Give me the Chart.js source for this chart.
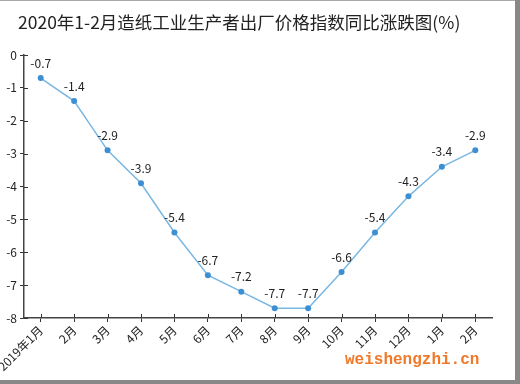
<!DOCTYPE html>
<html>
<head>
<meta charset="utf-8">
<script src="https://cdn.jsdelivr.net/npm/chart.js@4/dist/chart.umd.min.js"></script>
<style>
html,body{margin:0;padding:0;background:#fff;}
#wrap{position:relative;width:520px;height:384px;overflow:hidden;background:#fff;}
#c{position:absolute;left:0;top:0;}
.b{position:absolute;background:#888;}
#title{position:absolute;left:18px;top:11px;font-family:"Noto Sans CJK SC","Noto Sans",sans-serif;font-size:17.5px;line-height:21px;color:#222;white-space:nowrap;}
#wm{position:absolute;left:345px;top:351px;font-family:"Liberation Mono","DejaVu Sans Mono",monospace;font-size:16px;line-height:18px;color:#f07828;font-weight:bold;}
</style>
</head>
<body>
<div id="wrap">
<canvas id="c" width="520" height="384"></canvas>
<div id="title"></div>
<div id="wm">weishengzhi.cn</div>
<div class="b" style="left:0;top:0;width:520px;height:1px;background:#aaa;"></div>
<div class="b" style="left:515px;top:0;width:5px;height:384px;"></div>
<div class="b" style="left:0;top:380px;width:520px;height:4px;"></div>
</div>
<script>
const titleText = "2020年1-2月造纸工业生产者出厂价格指数同比涨跌图(%)";
const categories = ["2019年1月","2月","3月","4月","5月","6月","7月","8月","9月","10月","11月","12月","1月","2月"];
const values = [-0.7,-1.4,-2.9,-3.9,-5.4,-6.7,-7.2,-7.7,-7.7,-6.6,-5.4,-4.3,-3.4,-2.9];
const yTicks = [0,-1,-2,-3,-4,-5,-6,-7,-8];

document.getElementById('title').textContent = titleText;

const FONT = "'Noto Sans CJK SC','Noto Sans',sans-serif";

const innerTicks = {
  id: 'innerTicks',
  afterDraw(chart) {
    const ctx = chart.ctx;
    const xs = chart.scales.x, ys = chart.scales.y;
    const area = chart.chartArea;
    ctx.save();
    ctx.strokeStyle = '#333';
    ctx.lineWidth = 1;
    ctx.beginPath();
    xs.ticks.forEach((t, i) => {
      const x = Math.round(xs.getPixelForTick(i)) + 0.5;
      ctx.moveTo(x, area.bottom);
      ctx.lineTo(x, area.bottom - 4);
    });
    ys.ticks.forEach((t, i) => {
      const y = Math.round(ys.getPixelForTick(i)) + 0.5;
      ctx.moveTo(area.left, y);
      ctx.lineTo(area.left + 4, y);
    });
    ctx.stroke();
    ctx.restore();
  }
};

const dataLabels = {
  id: 'dataLabels',
  afterDatasetsDraw(chart) {
    const ctx = chart.ctx;
    const meta = chart.getDatasetMeta(0);
    ctx.save();
    ctx.font = "12px " + FONT;
    ctx.fillStyle = '#222';
    ctx.textAlign = 'center';
    ctx.textBaseline = 'middle';
    meta.data.forEach((pt, i) => {
      ctx.fillText(String(values[i]), pt.x, pt.y - 15);
    });
    ctx.restore();
  }
};

new Chart(document.getElementById('c'), {
  type: 'line',
  data: {
    labels: categories,
    datasets: [{
      data: values,
      borderColor: '#79b7e3',
      borderWidth: 1.5,
      pointBackgroundColor: '#3d8fd1',
      pointBorderColor: '#3d8fd1',
      pointRadius: 3,
      pointBorderWidth: 0,
      tension: 0,
      fill: false
    }]
  },
  options: {
    responsive: false,
    animation: false,
    devicePixelRatio: 1,
    layout: { padding: { left: 0, right: 28, top: 55, bottom: 0 } },
    plugins: {
      legend: { display: false },
      tooltip: { enabled: false },
      title: { display: false }
    },
    scales: {
      x: {
        type: 'category',
        offset: true,
        grid: { display: true, drawOnChartArea: false, drawTicks: true, tickLength: 4, offset: false, color: '#333' },
        border: { display: true, color: '#444', width: 1.5 },
        ticks: {
          color: '#222',
          font: { family: FONT, size: 12 },
          minRotation: 45,
          maxRotation: 45,
          autoSkip: false,
          padding: 1
        },
        afterFit(s) { s.height = 66; s.paddingLeft = 0; s.paddingRight = 0; }
      },
      y: {
        min: -8,
        max: 0,
        afterBuildTicks(s) { s.ticks = yTicks.map(v => ({ value: v })); },
        grid: { display: true, drawOnChartArea: false, drawTicks: true, tickLength: 4, color: '#333' },
        border: { display: true, color: '#444', width: 1.5 },
        ticks: {
          color: '#222',
          font: { family: FONT, size: 12 },
          padding: 3
        },
        afterFit(s) { s.width = 24; s.paddingTop = 0; s.paddingBottom = 0; }
      }
    }
  },
  plugins: [innerTicks, dataLabels]
});
</script>
</body>
</html>
